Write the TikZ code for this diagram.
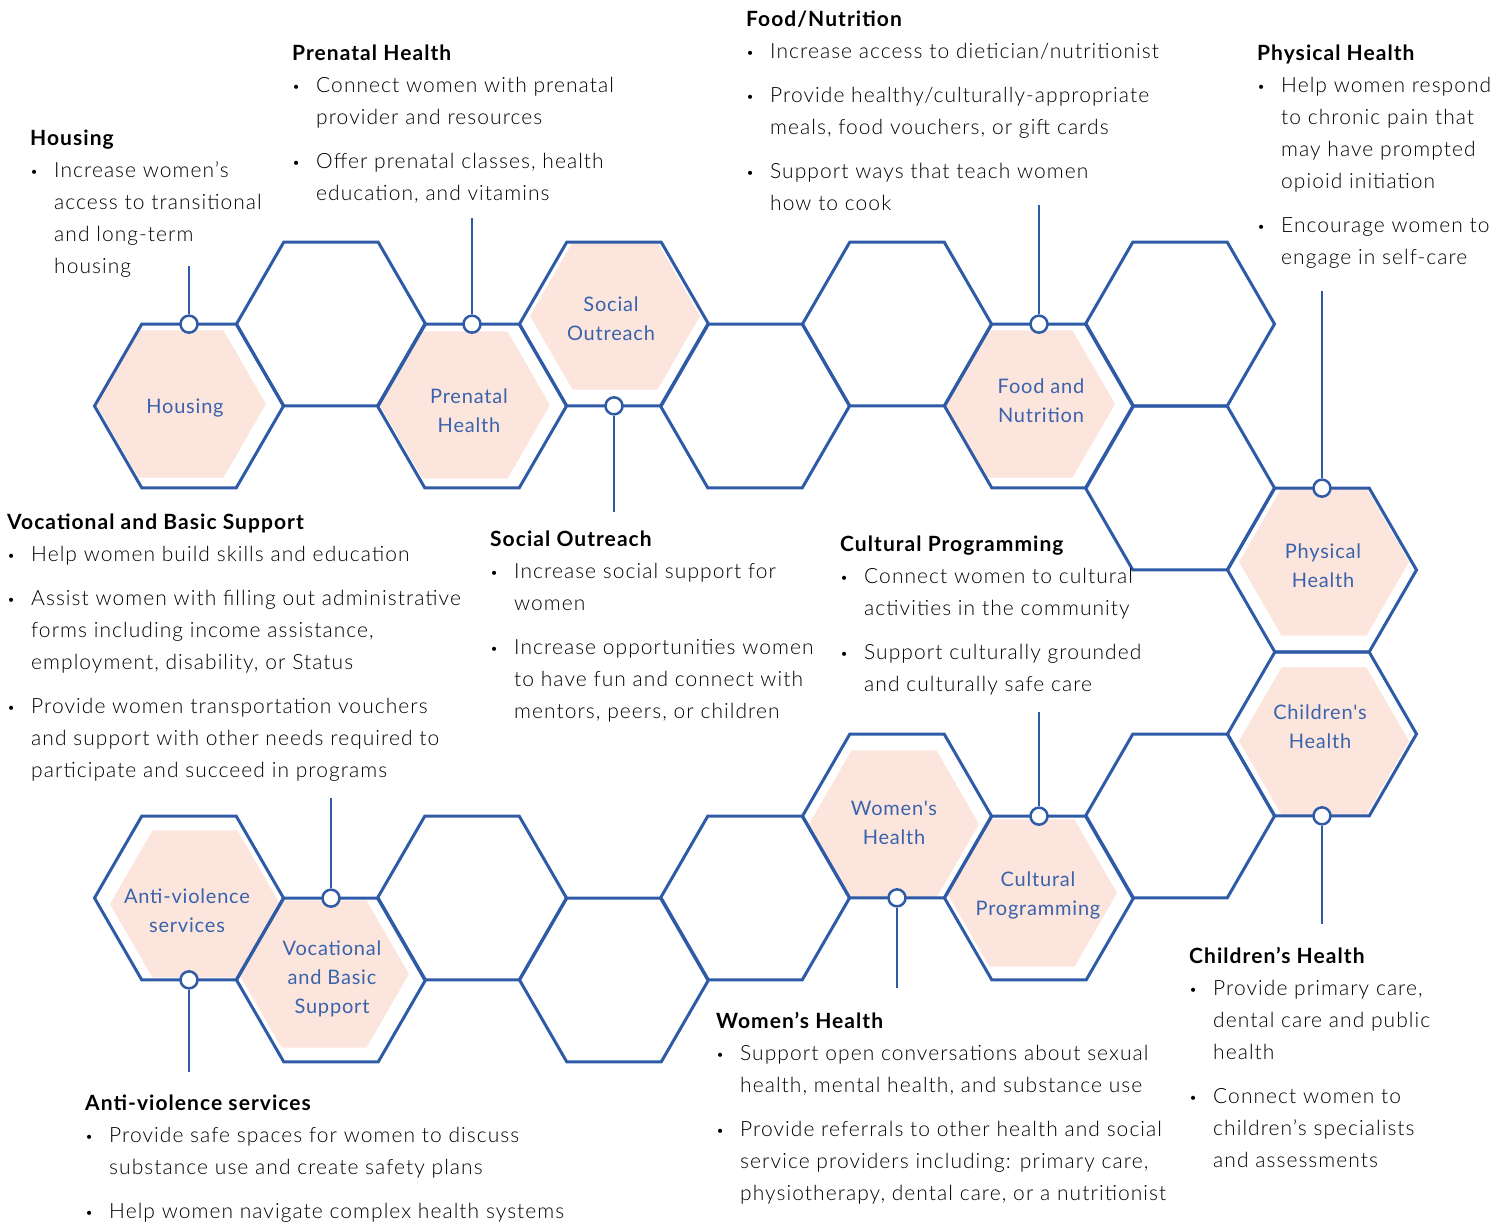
\documentclass[tikz,border=0pt]{standalone}
\usepackage{fontspec}
\setmainfont{Lato}[UprightFont={* Light},BoldFont={* Bold},LetterSpace=5]
\newfontfamily\hexfont{Lato}[LetterSpace=4]
\usetikzlibrary{shapes.geometric}
\definecolor{hexblue}{HTML}{2F5AA6}
\definecolor{lblblue}{HTML}{3A63AB}
\definecolor{hexpink}{HTML}{FCE5DD}
\newcommand{\itm}{\makebox[24pt][l]{\raisebox{1pt}{\fontsize{14}{14}\selectfont\textbullet}}}
\newcommand{\ind}{\hspace*{24pt}}
\tikzset{
  cell/.style={regular polygon, regular polygon sides=6, minimum size=189pt,
    inner sep=0pt, outer sep=0pt, draw=hexblue, line width=3pt},
  tint/.style={regular polygon, regular polygon sides=6, minimum size=170pt,
    inner sep=0pt, fill=hexpink},
  lbl/.style={text=lblblue, align=center, font=\hexfont\fontsize{20}{29}\selectfont},
  dot/.style={circle, draw=hexblue, fill=white, line width=2.5pt,
    minimum size=17pt, inner sep=0pt},
  txt/.style={anchor=north west, align=left, inner sep=0pt,
    font=\fontsize{21}{32}\selectfont},
  link/.style={draw=hexblue, line width=2.5pt}
}
\begin{document}
\begin{tikzpicture}[x=1pt,y=-1pt]
    \useasboundingbox (0,0) rectangle (1505,1224);
    % tinted cells
    \node[tint] (hous-tint) at (181,404) {};
    \node[tint] (prenat-tint) at (465,405) {};
    \node[tint] (soc-tint) at (615,316) {};
    \node[tint] (food-tint) at (1030,404) {};
    \node[tint] (phys-tint) at (1324,562) {};
    \node[tint] (child-tint) at (1324,741) {};
    \node[tint] (cult-tint) at (1032,893) {};
    \node[tint] (women-tint) at (894,824) {};
    \node[tint] (voc-tint) at (324,974) {};
    \node[tint] (anti-tint) at (195,904) {};
    % honeycomb
    \node[cell] (hous) at (189,406) {};
    \node[cell] (b1) at (331,324) {};
    \node[cell] (prenat) at (472,406) {};
    \node[cell] (soc) at (614,324) {};
    \node[cell] (b2) at (755,406) {};
    \node[cell] (b3) at (897,324) {};
    \node[cell] (food) at (1039,406) {};
    \node[cell] (b4) at (1180,324) {};
    \node[cell] (b5) at (1180,488) {};
    \node[cell] (phys) at (1322,570) {};
    \node[cell] (child) at (1322,734) {};
    \node[cell] (b6) at (1180,816) {};
    \node[cell] (cult) at (1039,898) {};
    \node[cell] (women) at (897,816) {};
    \node[cell] (b7) at (755,898) {};
    \node[cell] (b8) at (614,980) {};
    \node[cell] (b9) at (472,898) {};
    \node[cell] (voc) at (331,980) {};
    \node[cell] (anti) at (189,898) {};
    % labels
    \node[lbl] (hous-lbl) at (185,408) {Housing};
    \node[lbl] (prenat-lbl) at (469,411) {Prenatal\\Health};
    \node[lbl] (soc-lbl) at (611,319) {Social\\Outreach};
    \node[lbl] (food-lbl) at (1041,401) {Food and\\Nutrition};
    \node[lbl] (phys-lbl) at (1323,566) {Physical\\Health};
    \node[lbl] (child-lbl) at (1320,727) {Children's\\Health};
    \node[lbl] (women-lbl) at (894,823) {Women's\\Health};
    \node[lbl] (cult-lbl) at (1038,895) {Cultural\\Programming};
    \node[lbl] (voc-lbl) at (332,979) {Vocational\\and Basic\\Support};
    \node[lbl] (anti-lbl) at (187,911) {Anti-violence\\services};
    % pins
    \node[dot] (hous-dot) at (hous.north) {};
    \node[dot] (prenat-dot) at (prenat.north) {};
    \node[dot] (soc-dot) at (soc.south) {};
    \node[dot] (food-dot) at (food.north) {};
    \node[dot] (phys-dot) at (phys.north) {};
    \node[dot] (child-dot) at (child.south) {};
    \node[dot] (cult-dot) at (cult.north) {};
    \node[dot] (women-dot) at (women.south) {};
    \node[dot] (voc-dot) at (voc.north) {};
    \node[dot] (anti-dot) at (anti.south) {};
    \coordinate (hous-end) at (189,266);
    \coordinate (prenat-end) at (472,218);
    \coordinate (soc-end) at (614,512);
    \coordinate (food-end) at (1039,205);
    \coordinate (phys-end) at (1322,291);
    \coordinate (child-end) at (1322,924);
    \coordinate (cult-end) at (1039,712);
    \coordinate (women-end) at (897,988);
    \coordinate (voc-end) at (331,798);
    \coordinate (anti-end) at (189,1072);
    \draw[link] (hous-dot) -- (hous-end);
    \draw[link] (prenat-dot) -- (prenat-end);
    \draw[link] (soc-dot) -- (soc-end);
    \draw[link] (food-dot) -- (food-end);
    \draw[link] (phys-dot) -- (phys-end);
    \draw[link] (child-dot) -- (child-end);
    \draw[link] (cult-dot) -- (cult-end);
    \draw[link] (women-dot) -- (women-end);
    \draw[link] (voc-dot) -- (voc-end);
    \draw[link] (anti-dot) -- (anti-end);
    % descriptions
    \node[txt] (hous-txt) at (30,130) {\textbf{Housing}\\
      \itm Increase women's\\
      \ind access to transitional\\
      \ind and long-term\\
      \ind housing};
    \node[txt] (prenat-txt) at (292,45) {\textbf{Prenatal Health}\\
      \itm Connect women with prenatal\\
      \ind provider and resources\\[12pt]
      \itm Offer prenatal classes, health\\
      \ind education, and vitamins};
    \node[txt] (food-txt) at (746,11) {\textbf{Food/Nutrition}\\
      \itm Increase access to dietician/nutritionist\\[12pt]
      \itm Provide healthy/culturally-appropriate\\
      \ind meals, food vouchers, or gift cards\\[12pt]
      \itm Support ways that teach women\\
      \ind how to cook};
    \node[txt] (phys-txt) at (1257,45) {\textbf{Physical Health}\\
      \itm Help women respond\\
      \ind to chronic pain that\\
      \ind may have prompted\\
      \ind opioid initiation\\[12pt]
      \itm Encourage women to\\
      \ind engage in self-care};
    \node[txt] (voc-txt) at (7,514) {\textbf{Vocational and Basic Support}\\
      \itm Help women build skills and education\\[12pt]
      \itm Assist women with filling out administrative\\
      \ind forms including income assistance,\\
      \ind employment, disability, or Status\\[12pt]
      \itm Provide women transportation vouchers\\
      \ind and support with other needs required to\\
      \ind participate and succeed in programs};
    \node[txt] (soc-txt) at (490,531) {\textbf{Social Outreach}\\
      \itm Increase social support for\\
      \ind women\\[12pt]
      \itm Increase opportunities women\\
      \ind to have fun and connect with\\
      \ind mentors, peers, or children};
    \node[txt] (cult-txt) at (840,536) {\textbf{Cultural Programming}\\
      \itm Connect women to cultural\\
      \ind activities in the community\\[12pt]
      \itm Support culturally grounded\\
      \ind and culturally safe care};
    \node[txt] (women-txt) at (716,1012) {\textbf{Women's Health}\\
      \itm Support open conversations about sexual\\
      \ind health, mental health, and substance use\\[12pt]
      \itm Provide referrals to other health and social\\
      \ind service providers including: primary care,\\
      \ind physiotherapy, dental care, or a nutritionist};
    \node[txt] (child-txt) at (1189,947) {\textbf{Children's Health}\\
      \itm Provide primary care,\\
      \ind dental care and public\\
      \ind health\\[12pt]
      \itm Connect women to\\
      \ind children's specialists\\
      \ind and assessments};
    \node[txt] (anti-txt) at (85,1095) {\textbf{Anti-violence services}\\
      \itm Provide safe spaces for women to discuss\\
      \ind substance use and create safety plans\\[12pt]
      \itm Help women navigate complex health systems};
  \end{tikzpicture}
\end{document}
